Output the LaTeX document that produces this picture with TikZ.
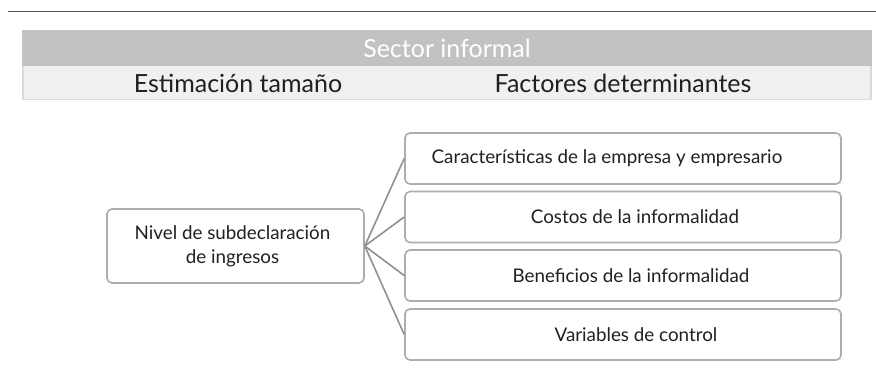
\documentclass[tikz,border=0pt]{standalone}
\usepackage{fontspec}
\setmainfont{Lato}
\definecolor{rulec}{HTML}{555555}
\definecolor{bandc}{HTML}{C1C2C4}
\definecolor{lightc}{HTML}{EFF0F1}
\definecolor{edgec}{HTML}{D9DADB}
\definecolor{boxc}{HTML}{ABADB0}
\definecolor{linec}{HTML}{8E9093}
\definecolor{txtc}{HTML}{231F20}
\tikzset{
  box/.style={draw=boxc, line width=1.6pt, rounded corners=5pt, fill=white, inner sep=0pt},
  conn/.style={draw=linec, line width=1.6pt},
  boxtext/.style={text=txtc, font=\fontsize{18.8}{24}\selectfont, align=center, inner sep=0pt},
  headtext/.style={text=txtc, font=\fontsize{25}{28}\selectfont, inner sep=0pt},
}
\begin{document}
\begin{tikzpicture}[x=1pt,y=-1pt]
\useasboundingbox (0,0) rectangle (876,368);
\draw[rulec, line width=1.8pt] (8,11.5) -- (876,11.5);
\fill[bandc] (22,30) rectangle (872,66);
\fill[lightc] (22,66) rectangle (872,99.5);
\fill[edgec] (22,66) rectangle (24,99.5);
\fill[edgec] (870,66) rectangle (872,99.5);
\fill[edgec] (22,98.5) rectangle (872,99.5);
\node[headtext, text=white] (sector) at (447,48) {Sector informal};
\node[headtext] (estim) at (238,83) {Estimación tamaño};
\node[headtext] (fact) at (623,83) {Factores determinantes};
\node[box, minimum width=257pt, minimum height=74pt] (nivel) at (235.5,246) {};
\node[boxtext] (niveltxt) at (232.5,246) {Nivel de subdeclaración\\de ingresos};
\node[box, minimum width=436pt, minimum height=51pt] (b1) at (623,158.5) {};
\node[box, minimum width=436pt, minimum height=51pt] (b2) at (623,217) {};
\node[box, minimum width=436pt, minimum height=51pt] (b3) at (623,275.5) {};
\node[box, minimum width=436pt, minimum height=51pt] (b4) at (623,334.5) {};
\node[boxtext] (t1) at (607,158.5) {Características de la empresa y empresario};
\node[boxtext] (t2) at (635,217) {Costos de la informalidad};
\node[boxtext] (t3) at (631,275.5) {Beneficios de la informalidad};
\node[boxtext] (t4) at (636,334.5) {Variables de control};
\foreach \b in {b1,b2,b3,b4} \draw[conn] (nivel.east) -- (\b.west);
\end{tikzpicture}
\end{document}
